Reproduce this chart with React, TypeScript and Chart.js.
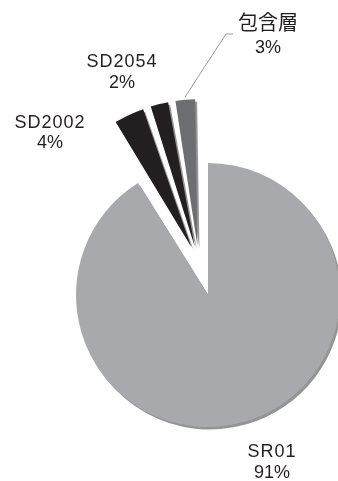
import React, { useEffect, useRef } from 'react';
import { Chart, registerables } from 'chart.js';

Chart.register(...registerables);

// ---- data (shares; labels show rounded %) ----
const categories = ['SR01', 'SD2002', 'SD2054', '包含層'];
const values = [91.1, 3.8, 2.45, 2.65];
const explodedCategories = ['SD2002', 'SD2054', '包含層'];

// ---- style / layout ----
const sliceColors = ['#a7a9ac', '#231f20', '#231f20', '#6d6e71'];
const W = 338;
const H = 481;
const CENTER_X = 208;
const CENTER_Y = 295;
const RADIUS = 132;
const SLICE_EXPLODE = 32; // each slice along its own bisector
const GROUP_EXPLODE = 33; // exploded group along the group's bisector
const TEXT_COLOR = '#231f20';
const LATIN_FONT = '18px "Liberation Sans", Arial, sans-serif';
const CJK_FONT = '20px "Noto Sans CJK JP", sans-serif';

// label anchors: centre x, baselines of the two lines
const labelLayout = [
  { x: 272, y1: 457, y2: 478 },
  { x: 50, y1: 128, y2: 148 },
  { x: 122, y1: 67, y2: 88 },
  { x: 268, y1: 30, y2: 53 },
];
const leaderLine = [
  [185, 97],
  [226, 34],
  [233, 34],
];

const total = values.reduce((a, b) => a + b, 0);

const hasCJK = (s: string) => /[\u3000-\u9fff]/.test(s);

const groupExplodePlugin = {
  id: 'groupExplode',
  afterDatasetsUpdate(chart: any) {
    const meta = chart.getDatasetMeta(0);
    const arcs = meta.data as any[];
    const idx = categories
      .map((c, i) => (explodedCategories.includes(c) ? i : -1))
      .filter((i) => i >= 0);
    if (!idx.length) return;
    const start = Math.min(...idx.map((i) => arcs[i].startAngle));
    const end = Math.max(...idx.map((i) => arcs[i].endAngle));
    const mid = (start + end) / 2;
    idx.forEach((i) => {
      arcs[i].x += Math.cos(mid) * GROUP_EXPLODE;
      arcs[i].y += Math.sin(mid) * GROUP_EXPLODE;
    });
  },
};

const shadowPlugin = {
  id: 'sliceShadow',
  beforeDatasetsDraw(chart: any) {
    const ctx = chart.ctx;
    ctx.save();
    ctx.shadowColor = 'rgba(0,0,0,0.42)';
    ctx.shadowOffsetX = 2;
    ctx.shadowOffsetY = 2.5;
    ctx.shadowBlur = 0;
  },
  afterDatasetsDraw(chart: any) {
    chart.ctx.restore();
  },
};

const labelPlugin = {
  id: 'sliceLabels',
  afterDraw(chart: any) {
    const ctx = chart.ctx as CanvasRenderingContext2D;
    ctx.save();
    // leader line
    ctx.strokeStyle = '#9a9a9a';
    ctx.lineWidth = 1;
    ctx.beginPath();
    leaderLine.forEach(([x, y], i) => (i === 0 ? ctx.moveTo(x, y) : ctx.lineTo(x, y)));
    ctx.stroke();

    ctx.fillStyle = TEXT_COLOR;
    ctx.textAlign = 'center';
    ctx.textBaseline = 'alphabetic';
    categories.forEach((name, i) => {
      const pos = labelLayout[i];
      const pct = Math.round((values[i] / total) * 100) + '%';
      if (hasCJK(name)) {
        ctx.font = CJK_FONT;
        (ctx as any).letterSpacing = '0px';
      } else {
        ctx.font = LATIN_FONT;
        (ctx as any).letterSpacing = '1px';
      }
      ctx.fillText(name, pos.x, pos.y1);
      ctx.font = LATIN_FONT;
      (ctx as any).letterSpacing = '0px';
      ctx.fillText(pct, pos.x, pos.y2);
    });
    ctx.restore();
  },
};

export default function App() {
  const canvasRef = useRef<HTMLCanvasElement | null>(null);

  useEffect(() => {
    document.body.style.margin = '0';
    const canvas = canvasRef.current;
    if (!canvas) return;
    const chart = new Chart(canvas, {
      type: 'pie',
      data: {
        labels: categories,
        datasets: [
          {
            data: values,
            backgroundColor: sliceColors,
            borderWidth: 0,
            clip: false as any,
            offset: (c: any) => {
              const name = categories[c.dataIndex];
              if (!explodedCategories.includes(name)) return 0;
              const circ = (values[c.dataIndex] / total) * Math.PI * 2;
              // Chart.js moves an arc by offset/4 * (2 - sin(circ))
              return (4 * SLICE_EXPLODE) / (2 - Math.sin(Math.min(Math.PI, circ)));
            },
          },
        ],
      },
      options: {
        responsive: false,
        animation: false,
        radius: RADIUS,
        layout: {
          padding: {
            left: 2 * CENTER_X - W,
            right: 0,
            top: 2 * CENTER_Y - H,
            bottom: 0,
          },
        },
        plugins: {
          legend: { display: false },
          tooltip: { enabled: false },
          title: { display: false },
        },
      } as any,
      plugins: [groupExplodePlugin, shadowPlugin, labelPlugin],
    });
    return () => chart.destroy();
  }, []);

  return (
    <div style={{ width: W, height: H, background: '#fff' }}>
      <canvas ref={canvasRef} width={W} height={H} style={{ display: 'block' }} />
    </div>
  );
}
